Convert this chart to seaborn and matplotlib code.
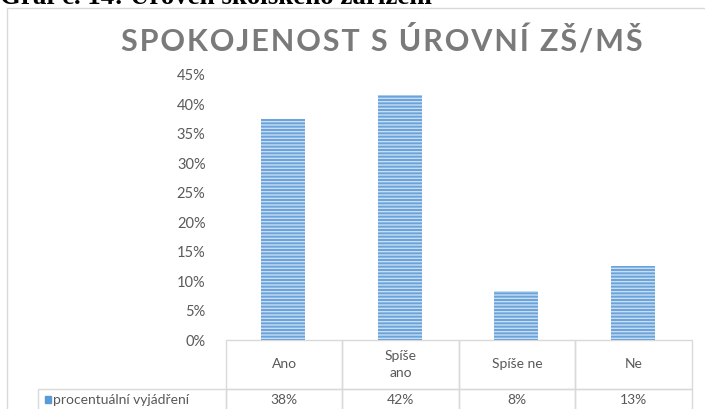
import matplotlib
matplotlib.use("Agg")
import matplotlib.pyplot as plt
from matplotlib.patches import Rectangle
from matplotlib.table import Table
import seaborn as sns
import pandas as pd

# data (24 answers -> 9, 10, 2, 3)
categories = ["Ano", "Spíše ano", "Spíše ne", "Ne"]
header_labels = ["Ano", "Spíše\nano", "Spíše ne", "Ne"]
values = [37.5, 41.67, 8.33, 12.5]
value_labels = ["38%", "42%", "8%", "13%"]
series_name = "procentuální vyjádření"
y_ticks = [0, 5, 10, 15, 20, 25, 30, 35, 40, 45]

sns.set_theme(style="white")
plt.rcParams['font.family'] = ['Lato', 'DejaVu Sans']

grey = '#595959'
blue = '#5b9bd5'
line = '#d9d9d9'

df = pd.DataFrame({"kategorie": categories, "procenta": values})

fig = plt.figure(figsize=(7.05, 4.09), dpi=100)
ax_w, ax_h = 466.0, 265.0
ax = fig.add_axes([225/705, 1-340/409, ax_w/705, ax_h/409])

sns.barplot(data=df, x="kategorie", y="procenta", color=blue, width=0.38,
            saturation=1, ax=ax)
for p in ax.patches:
    p.set_facecolor('#6aa2da')
    p.set_hatch('-----')
    p.set_edgecolor('#c8ddf3')
    p.set_linewidth(0)

ax.set_ylim(0, 45)
ax.set_yticks(y_ticks)
ax.set_yticklabels([f"{t}%" for t in y_ticks], color=grey, fontsize=10.5)
ax.tick_params(axis='y', length=0, pad=14)
ax.set_xticks([])
ax.set_xlabel("")
ax.set_ylabel("")
for s in ax.spines.values():
    s.set_visible(False)

# data table under the bars, like Excel (sizes in axes fractions)
col_w = 116/ax_w
lab_w = 187/ax_w
head_h = 49/ax_h
val_h = 22/ax_h
tbl = Table(ax, bbox=[0, -(head_h+val_h), 1, head_h+val_h])
for j, lab in enumerate(header_labels):
    tbl.add_cell(0, j, width=col_w, height=head_h, text=lab, loc='center',
                 edgecolor=line, facecolor='none')
c = tbl.add_cell(1, -1, width=lab_w, height=val_h, text=series_name, loc='left',
                 edgecolor=line, facecolor='none')
c.PAD = 0.08
for j, lab in enumerate(value_labels):
    tbl.add_cell(1, j, width=col_w, height=val_h, text=lab, loc='center',
                 edgecolor=line, facecolor='none')
tbl.auto_set_font_size(False)
tbl.set_fontsize(10)
for c in tbl.get_celld().values():
    c.set_linewidth(1)
    c.get_text().set_color(grey)
    c.get_text().set_linespacing(1.5)
ax.add_table(tbl)

# legend key inside the row label
fig.patches.append(Rectangle((45/705, 1-403/409), 6/705, 7/409,
                             transform=fig.transFigure, color=blue))

# chart frame
fig.patches.append(Rectangle((7/705, -0.05), 1.1, 1-8/409+0.05,
                             transform=fig.transFigure, fill=False,
                             edgecolor=line, linewidth=1))

title = "SPOKOJENOST S ÚROVNÍ ZŠ/MŠ"
spaced = "\u200a".join(title)
fig.text(0.541, 1-40/409, spaced, ha='center', va='center',
         fontsize=22, color='#7a7a7a', fontweight='bold')

cap = fig.text(0, 1-4.5/409, "Graf č. 14: Úroveň školského zařízení", ha='left',
               va='baseline', fontsize=16, fontweight='bold',
               family=['Liberation Serif', 'DejaVu Serif'], color='black')
# fit caption to its width in the reference (about 433 px)
r = fig.canvas.get_renderer()
wpx = cap.get_window_extent(r).width
cap.set_fontsize(16 * 433 / wpx)

fig.savefig("out.png", dpi=100)
